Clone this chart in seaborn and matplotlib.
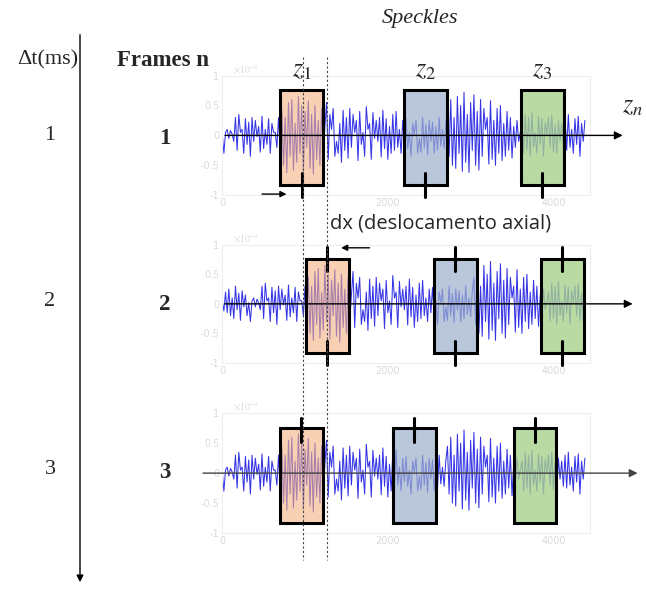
import matplotlib
matplotlib.use("Agg")
import matplotlib.pyplot as plt
import matplotlib.patches as mpatches
import seaborn as sns

# speckle amplitude (x1e-3), one sample every 20 depth units
speckle = [
    0.05, -0.12, 0.2, -0.15, 0.25, -0.2, 0.1, -0.25, 0.3, -0.1,
    0.18, -0.28, 0.22, -0.05, 0.15, -0.2,
    0.02, -0.3, 0.05, 0.1,
    -0.05, 0.08, 0.02, -0.1, 0.3, -0.25, 0.35, 0.05, 0.1, -0.3,
    0.28, -0.15, 0.22, -0.35, 0.3, -0.1, 0.25, -0.02, 0.15, -0.28,
    0.32, -0.22, 0.1, -0.15, 0.28, -0.3, 0.2, 0.05, 0.05, -0.2,
    0.3, -0.25,
    0.45, -0.5, 0.3, -0.62, 0.55, -0.35, 0.6, -0.58, 0.2, -0.45,
    0.65, -0.3, 0.5, -0.6, 0.4, -0.2, 0.58, -0.55, 0.35, -0.65,
    0.5, -0.4, 0.25, -0.5, 0.45, -0.3, 0.15,
    0.55, -0.4, 0.35, 0.1, 0.45, -0.35, -0.1, -0.3, 0.2, -0.45,
    0.42, -0.25, 0.3, -0.38, 0.45, -0.2, 0.35, 0.05, 0.25, -0.42,
    0.4, -0.15, 0.05, -0.35, 0.48, 0.1, 0.2, -0.4, 0.38, -0.05,
    0.25, -0.1, 0.3, -0.36, 0.42, -0.22, 0.28, -0.4, 0.15, -0.3,
    0.35, -0.25, 0.4, -0.2, 0.1, -0.3, 0.25, -0.15,
    0.28, -0.22, 0.05, -0.35, 0.2, 0.02, 0.25, -0.3, -0.05, -0.28,
    0.3, -0.2, 0.18, -0.32, 0.25, -0.1, 0.22, -0.3, 0.15, -0.25,
    0.3, -0.18, 0.1, -0.22, 0.2,
    0.45, -0.35, 0.6, -0.5, 0.3, -0.55, 0.65, -0.3, 0.5, -0.6,
    0.72, -0.45, 0.35, -0.62, 0.55, -0.25, 0.68, -0.5, 0.4, -0.58,
    0.6, -0.35, 0.45, 0.1, 0.3, -0.48, 0.58, -0.4, 0.25, -0.5,
    0.45, -0.3, 0.5, -0.42, 0.2, -0.35, 0.4, -0.25, 0.3, -0.38,
    0.15, -0.2, 0.25, -0.1, 0.05,
    0.2, -0.3, 0.35, -0.25, 0.3, -0.35, 0.38, -0.2, 0.05, -0.3,
    0.32, -0.15, 0.28, -0.35, 0.22, 0.02, 0.3, -0.2, 0.35, -0.28,
    0.18, -0.3, 0.25, -0.1, 0.2, -0.22,
    0.3, -0.25, 0.35, -0.2, 0.1, -0.3, 0.28, -0.15, 0.32, -0.35,
    0.2, -0.1, 0.25,
]
step = 20
n_samples = 220
# frame 2 is the same speckle pattern displaced axially
frame_offsets = [16, 0, 16]

dt_labels = ["1", "2", "3"]
frame_labels = ["1", "2", "3"]
window_names = ["$z_1$", "$z_2$", "$z_3$"]
window_centers = [[960, 2453, 3867], [1269, 2816, 4109], [955, 2320, 3776]]
window_width = 515
window_bottom, window_top = -0.83, 0.76
window_colors = ["#F4B183", "#9DB0CC", "#A9D18E"]
window_alpha = [0.6, 0.7, 0.8]
# which edge carries the position mark, per frame
mark_edges = [[window_bottom], [window_top, window_bottom], [window_top - 0.04]]

y_ticks = [-1, -0.5, 0, 0.5, 1]
y_ticklabels = ["-1", "-0.5", "0", "0.5", "1"]
x_ticks = [0, 2000, 4000]

W, H = 646, 590
panel_boxes = [[0.344, 0.669, 0.570, 0.203],
               [0.344, 0.385, 0.570, 0.200],
               [0.344, 0.0966, 0.570, 0.203]]
row_y = [135, 302, 470]

sns.set_style("white")
plt.rcParams["mathtext.fontset"] = "stix"
fig = plt.figure(figsize=(W / 100, H / 100), dpi=100)

axes = []
for k in range(3):
    ax = fig.add_axes(panel_boxes[k])
    axes.append(ax)
    seg = speckle[frame_offsets[k]:frame_offsets[k] + n_samples]
    xs = [i * step for i in range(len(seg))]
    sns.lineplot(x=xs, y=seg, ax=ax, color="#3535e6", lw=0.75, zorder=2)
    ax.set_xlim(0, 4447)
    ax.set_ylim(-1, 1)
    ax.set_yticks(y_ticks)
    ax.set_yticklabels(y_ticklabels)
    ax.set_xticks(x_ticks)
    ax.tick_params(length=0, labelsize=7, labelcolor="#dadada", pad=2)
    for s in ax.spines.values():
        s.set_color("#eeeeee")
        s.set_linewidth(0.8)
    ax.text(0.03, 1.0, r"$\times10^{-3}$", transform=ax.transAxes,
            color="#dadada", fontsize=7, va="bottom")

    for j, c in enumerate(window_centers[k]):
        rect = mpatches.Rectangle((c - window_width / 2, window_bottom),
                                  window_width, window_top - window_bottom,
                                  facecolor=window_colors[j], alpha=window_alpha[j],
                                  edgecolor="none", zorder=3)
        ax.add_patch(rect)
        edge = mpatches.Rectangle((c - window_width / 2, window_bottom),
                                  window_width, window_top - window_bottom,
                                  facecolor="none", edgecolor="black", lw=2.2,
                                  zorder=5)
        ax.add_patch(edge)
        for e in mark_edges[k]:
            ax.plot([c, c], [e - 0.2, e + 0.2], color="black", lw=2.2,
                    clip_on=False, zorder=6)
        if k == 0:
            ax.text(c, 1.1, window_names[j], ha="center", va="center",
                    fontsize=19)

    if k < 2:
        end = [4870, 4990][k]
        ax.annotate("", xy=(end, 0), xytext=(0, 0), annotation_clip=False,
                    arrowprops=dict(arrowstyle="-|>", color="black", lw=1,
                                    mutation_scale=12), zorder=4)
    else:
        ax.annotate("", xy=(5050, 0), xytext=(-266, 0), annotation_clip=False,
                    arrowprops=dict(arrowstyle="-|>", color="#444444", lw=1,
                                    mutation_scale=12), zorder=4)

ax1, ax2, ax3 = axes
ax1.text(4955, 0.5, "$z_n$", fontsize=19, ha="center", va="center")
ax1.annotate("", xy=(810, -0.98), xytext=(447, -0.98), annotation_clip=False,
             arrowprops=dict(arrowstyle="-|>", color="black", lw=1,
                             mutation_scale=9))
ax2.annotate("", xy=(1402, 0.95), xytext=(1813, 0.95), annotation_clip=False,
             arrowprops=dict(arrowstyle="-|>", color="black", lw=1,
                             mutation_scale=9))
ax2.text(1305, 1.36, "dx (deslocamento axial)", family="Open Sans",
         fontsize=14.5, va="center", ha="left")

# dotted guides through the first window of frames 1 and 2
for ax, c in [(ax1, window_centers[0][0] + 20), (ax2, window_centers[1][0])]:
    x_fig = fig.transFigure.inverted().transform(ax.transData.transform((c, 0)))[0]
    fig.add_artist(plt.Line2D([x_fig, x_fig], [1 - 57 / H, 1 - 560 / H],
                              transform=fig.transFigure, color="#444444",
                              lw=0.8, ls=(0, (2, 2))))

serif = "Liberation Serif"
fig.text(420 / W, 1 - 18 / H, "Speckles", family=serif, style="italic",
         fontsize=16, ha="center", va="center")
fig.text(48 / W, 1 - 60 / H, "Δt(ms)", family=serif, fontsize=16,
         ha="center", va="center")
fig.text(163 / W, 1 - 60 / H, "Frames n", family=serif, fontsize=16.5,
         weight="bold", ha="center", va="center")
for k in range(3):
    fig.text(50 / W, 1 - row_y[k] / H, dt_labels[k], family=serif,
             fontsize=16, ha="center", va="center")
    fig.text(165 / W, 1 - (row_y[k] + 3) / H, frame_labels[k], family=serif,
             fontsize=16.5, weight="bold", ha="center", va="center")

fig.add_artist(mpatches.FancyArrowPatch((80 / W, 1 - 32 / H), (80 / W, 1 - 585 / H),
                                        transform=fig.transFigure,
                                        arrowstyle="-|>", mutation_scale=10,
                                        lw=1, color="black"))

fig.savefig("out.png", dpi=100)
plt.close(fig)
